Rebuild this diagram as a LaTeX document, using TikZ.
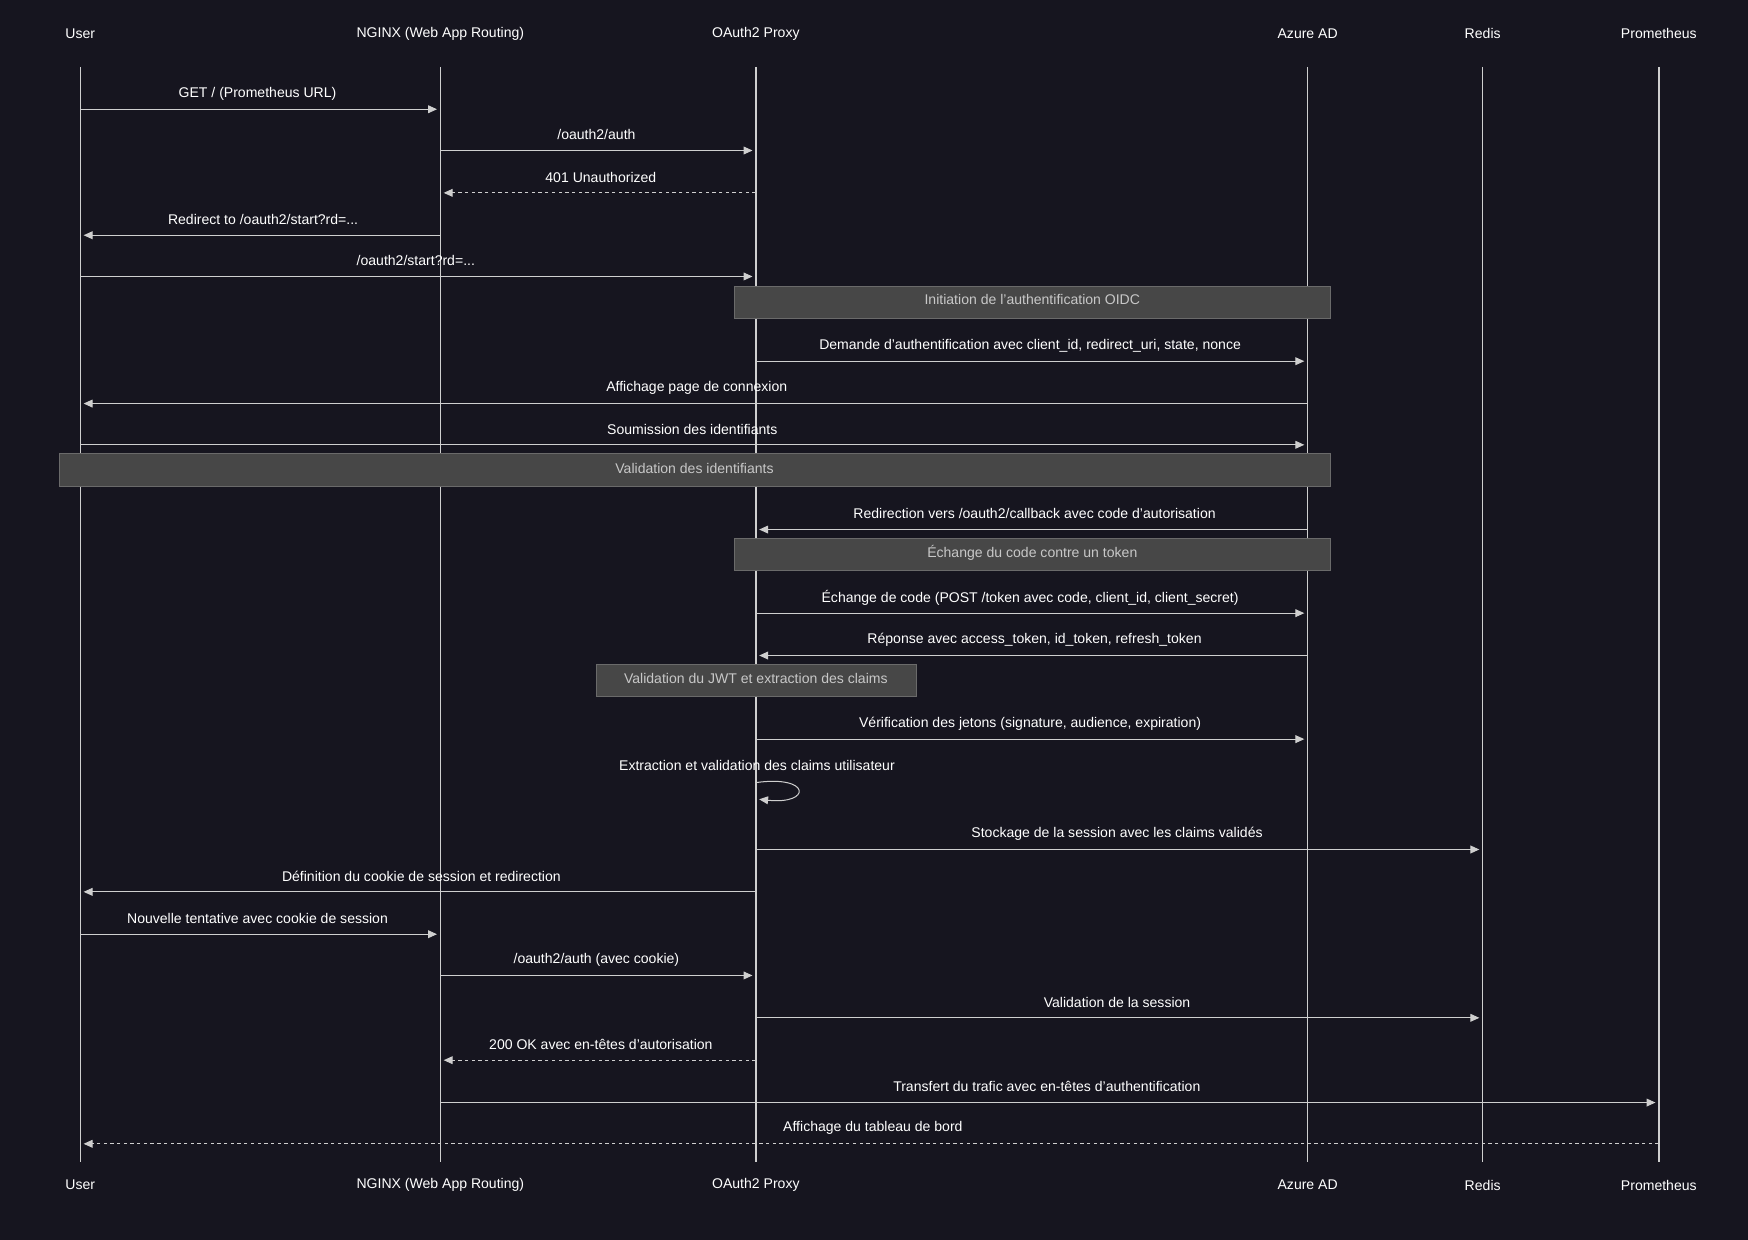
\documentclass[tikz,border=0pt]{standalone}
\usepackage{fontspec}
\setmainfont{Liberation Sans}
\usetikzlibrary{arrows.meta}
\definecolor{bg}{HTML}{16151F}
\definecolor{ln}{HTML}{CFCFCF}
\definecolor{nf}{HTML}{474747}
\definecolor{nb}{HTML}{6A6A6A}
\definecolor{nt}{HTML}{C8C8C8}
\begin{document}
\begin{tikzpicture}[x=1pt,y=-1pt,
  lab/.style={text=white,font=\fontsize{12.6}{14}\selectfont,inner sep=0pt},
  life/.style={draw=ln,line width=1.2pt},
  msg/.style={draw=ln,line width=0.9pt,-{Triangle[length=8pt,width=7pt]},shorten >=3pt},
  rmsg/.style={msg,dashed,dash pattern=on 3pt off 3pt},
  note/.style={draw=nb,fill=nf,line width=0.8pt},
  ntxt/.style={text=nt,font=\fontsize{12.6}{14}\selectfont,inner sep=0pt}]
\fill[bg] (0,0) rectangle (1568,1112);
\useasboundingbox (0,0) rectangle (1568,1112);
\foreach \n/\x/\t in {U/72/User,N/395/NGINX (Web App Routing),O/678/OAuth2 Proxy,A/1173/Azure AD,R/1330/Redis,P/1488/Prometheus}{
  \coordinate (\n) at (\x,0);
  \node[lab] (\n h) at (\x,30) {\t};
  \node[lab] (\n f) at (\x,1063) {\t};
  \draw[life] (\x,60) -- (\x,1042);
}
% notes
\draw[note] (659,257) rectangle (1193,286);
\node[ntxt] (n1) at (926,269) {Initiation de l'authentification OIDC};
\draw[note] (53,407) rectangle (1193,436);
\node[ntxt] (n2) at (623,420) {Validation des identifiants};
\draw[note] (659,483) rectangle (1193,512);
\node[ntxt] (n3) at (926,496) {Échange du code contre un token};
\draw[note] (535,596) rectangle (822,625);
\node[ntxt] (n4) at (678,609) {Validation du JWT et extraction des claims};
% messages
\newcommand\mymsg[6]{%
  \draw[#5] (#2 |- 0,#1) -- (#3 |- 0,#1);
  \node[lab] at (#6,#1-14) {#4};}
\mymsg{98}{U}{N}{GET / (Prometheus URL)}{msg}{231}
\mymsg{135}{N}{O}{/oauth2/auth}{msg}{535}
\mymsg{173}{O}{N}{401 Unauthorized}{rmsg}{539}
\mymsg{211}{N}{U}{Redirect to /oauth2/start?rd=...}{msg}{236}
\mymsg{248}{U}{O}{/oauth2/start?rd=...}{msg}{373}
\mymsg{324}{O}{A}{Demande d'authentification avec client\_id, redirect\_uri, state, nonce}{msg}{924}
\mymsg{362}{A}{U}{Affichage page de connexion}{msg}{625}
\mymsg{399}{U}{A}{Soumission des identifiants}{msg}{621}
\mymsg{475}{A}{O}{Redirection vers /oauth2/callback avec code d'autorisation}{msg}{928}
\mymsg{550}{O}{A}{Échange de code (POST /token avec code, client\_id, client\_secret)}{msg}{924}
\mymsg{588}{A}{O}{Réponse avec access\_token, id\_token, refresh\_token}{msg}{928}
\mymsg{663}{O}{A}{Vérification des jetons (signature, audience, expiration)}{msg}{924}
\node[lab] at (679,687) {Extraction et validation des claims utilisateur};
\draw[msg,shorten >=0pt] (O |- 0,702) .. controls (728,695) and (728,722) .. (681,717);
\mymsg{762}{O}{R}{Stockage de la session avec les claims validés}{msg}{1002}
\mymsg{800}{O}{U}{Définition du cookie de session et redirection}{msg}{378}
\mymsg{838}{U}{N}{Nouvelle tentative avec cookie de session}{msg}{231}
\mymsg{875}{N}{O}{/oauth2/auth (avec cookie)}{msg}{535}
\mymsg{913}{O}{R}{Validation de la session}{msg}{1002}
\mymsg{951}{O}{N}{200 OK avec en-têtes d'autorisation}{rmsg}{539}
\mymsg{989}{N}{P}{Transfert du trafic avec en-têtes d'authentification}{msg}{939}
\mymsg{1026}{P}{U}{Affichage du tableau de bord}{rmsg}{783}
\end{tikzpicture}
\end{document}
